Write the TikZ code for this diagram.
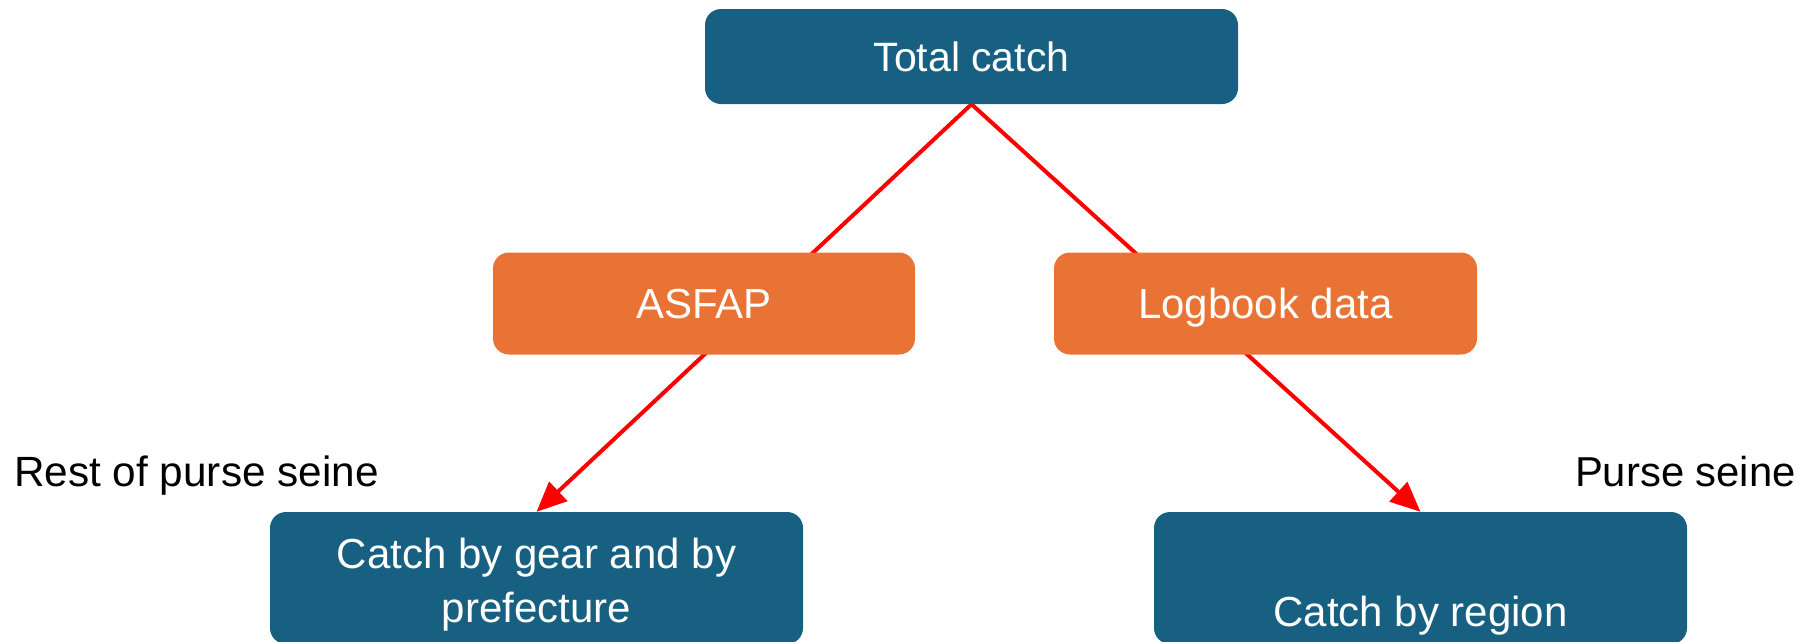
\documentclass[tikz,border=0pt]{standalone}
\usepackage{fontspec}
\setmainfont{Liberation Sans}
\usetikzlibrary{arrows.meta,backgrounds}
\definecolor{boxblue}{RGB}{24,96,130}
\definecolor{boxorange}{RGB}{232,115,52}
\definecolor{arrowred}{RGB}{255,0,0}
\begin{document}
\begin{tikzpicture}[x=1pt,y=-1pt,
  box/.style={rounded corners=16pt, draw=none, text=white, font=\fontsize{42}{56}\selectfont, align=center, inner sep=0pt, anchor=center, text height=30pt, text depth=0pt},
  bluebox/.style={box, fill=boxblue},
  orangebox/.style={box, fill=boxorange},
  boxtext/.style={text=white, font=\fontsize{42}{54}\selectfont, inner sep=0pt, align=center},
  side/.style={font=\fontsize{42.3}{50}\selectfont, text=black, inner sep=0pt},
  link/.style={draw=arrowred, line width=4pt, -{Triangle[length=30pt,width=26pt]}}]
\useasboundingbox (0,0) rectangle (1809,641);
\node[bluebox, font=\fontsize{41}{56}\selectfont, text height=29.4pt, minimum width=533pt, minimum height=95pt] (total) at (971.5,56.5) {Total catch};
\node[orangebox, minimum width=422pt, minimum height=102pt] (asfap) at (704,303.5) {ASFAP};
\node[orangebox, minimum width=423pt, minimum height=102pt] (logbook) at (1265.5,303.5) {Logbook data};
\node[bluebox, minimum width=533pt, minimum height=132pt,
      label={[boxtext, yshift=-6.5pt]center:{Catch by gear and by\\prefecture}}] (gear) at (536.5,578) {};
\node[bluebox, minimum width=533pt, minimum height=132pt,
      label={[boxtext, text height=30pt, text depth=0pt, yshift=-33.5pt]center:Catch by region}] (region) at (1420.5,578) {};
\node[side, anchor=base west] (restlbl) at (14,486) {Rest of purse seine};
\node[side, font=\fontsize{41.8}{50}\selectfont, anchor=base east] (pslbl) at (1796,486) {Purse seine};
\begin{pgfonlayer}{background}
\draw[link] (total.south) -- (gear.north);
\draw[link] (total.south) -- (region.north);
\end{pgfonlayer}
\end{tikzpicture}
\end{document}
